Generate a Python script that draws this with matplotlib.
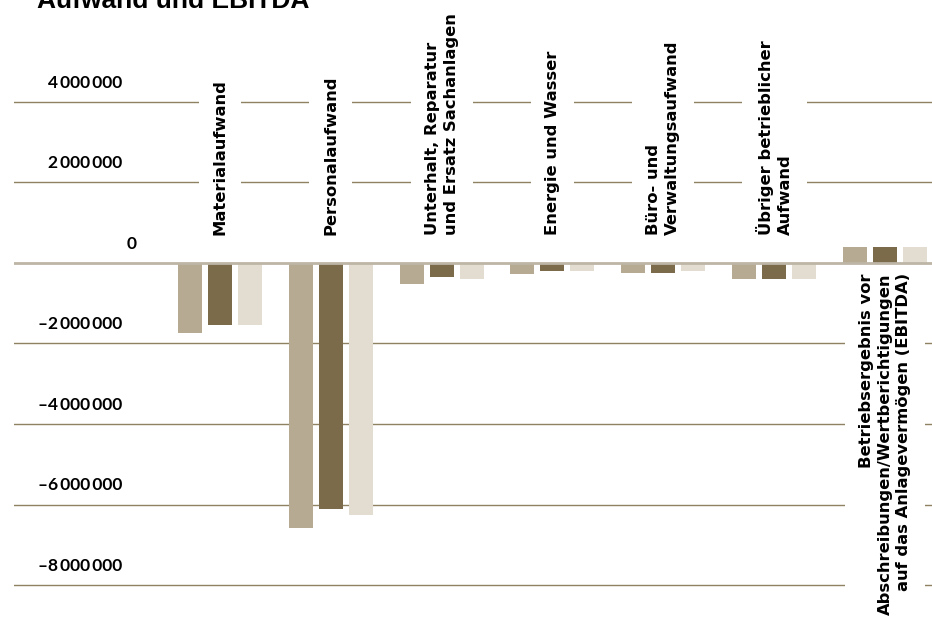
import matplotlib.pyplot as plt
import numpy as np

kategorien = [
    "Materialaufwand",
    "Personalaufwand",
    "Unterhalt, Reparatur\nund Ersatz Sachanlagen",
    "Energie und Wasser",
    "Büro- und\nVerwaltungsaufwand",
    "Übriger betrieblicher\nAufwand",
    "Betriebsergebnis vor\nAbschreibungen/Wertberichtigungen\nauf das Anlagevermögen (EBITDA)",
]
serie_1 = [-1730000, -6580000, -520000, -270000, -240000, -390000, 400000]
serie_2 = [-1530000, -6100000, -340000, -190000, -240000, -390000, 400000]
serie_3 = [-1530000, -6250000, -390000, -190000, -190000, -390000, 400000]
y_ticks = [4000000, 2000000, 0, -2000000, -4000000, -6000000, -8000000]
y_labels = ["4\u2009000\u2009000", "2\u2009000\u2009000", "0", "\u20132\u2009000\u2009000",
            "\u20134\u2009000\u2009000", "\u20136\u2009000\u2009000", "\u20138\u2009000\u2009000"]

farben = ["#b7aa93", "#7b6b4b", "#e2dcd1"]
grid_farbe = "#8f8262"

W, H = 932, 627
fig = plt.figure(figsize=(W / 100, H / 100), dpi=100)

# Achse in Pixeln: links 14, rechts 932, oben 30, unten 620
ax = fig.add_axes([14 / W, (H - 620) / H, (W - 14) / W, 590 / H])
px_per_m = 40.25
ax.set_ylim(-(620 - 263) / px_per_m * 1e6, (263 - 30) / px_per_m * 1e6)
abstand = 110.83
ax.set_xlim((14 - 220) / abstand, (932 - 220) / abstand)
ax.axis("off")

x = np.arange(len(kategorien))
breite = 24 / abstand
versatz = 30 / abstand
for i, (serie, farbe) in enumerate(zip([serie_1, serie_2, serie_3], farben)):
    ax.bar(x + (i - 1) * versatz, serie, width=breite, color=farbe, zorder=2)

for v, lab in zip(y_ticks, y_labels):
    if v == 0:
        ax.axhline(v, color="#bdb5a6", lw=2, zorder=3)
        tx = 137
    else:
        ax.axhline(v, color=grid_farbe, lw=1, zorder=1)
        tx = 122
    ax.text((tx - 14) / (W - 14), v + 14 / px_per_m * 1e6, lab,
            transform=ax.get_yaxis_transform(), ha="right", va="baseline",
            fontsize=12.5, fontweight="bold", family=["Lato", "DejaVu Sans"], zorder=5)

box = dict(boxstyle="square,pad=0.85", fc="white", ec="none")
for i, kat in enumerate(kategorien):
    if i < len(kategorien) - 1:
        ax.text(i, 0.70e6, kat, rotation=90, ha="center", va="bottom",
                multialignment="left", fontsize=11.8, fontweight="bold",
                family="DejaVu Sans", linespacing=1.32, bbox=box, zorder=1.5)
    else:
        ax.text(i, -0.25e6, kat, rotation=90, ha="center", va="top",
                multialignment="right", fontsize=11.8, fontweight="bold",
                family="DejaVu Sans", linespacing=1.32, bbox=box, zorder=1.5)

fig.text(37 / W, 1 - 8 / H, "Aufwand und EBITDA", ha="left", va="baseline",
         fontsize=19, fontweight="bold", family=["Liberation Sans", "DejaVu Sans"])

fig.savefig("out.png", dpi=100)
